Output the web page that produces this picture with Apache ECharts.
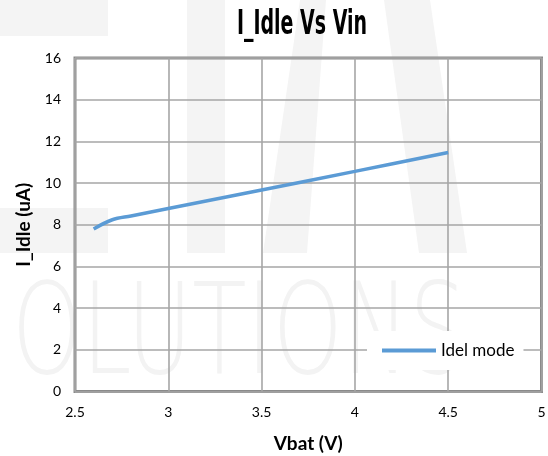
<!DOCTYPE html>
<html>
<head>
<meta charset="utf-8">
<script src="https://cdn.jsdelivr.net/npm/echarts@6/dist/echarts.min.js"></script>
<style>
html,body{margin:0;padding:0;background:#fff;}
#chart{width:548px;height:456px;}
</style>
</head>
<body>
<div id="chart"></div>
<script>
// ---- data ----
var vbat = [2.6, 2.7, 2.8, 3.0, 3.5, 4.0, 4.5];
var idleCurrent = [7.8, 8.24, 8.42, 8.78, 9.67, 10.56, 11.47];
var seriesName = 'Idel mode';
var chartTitle = 'I_Idle Vs Vin';
var xAxisName = 'Vbat (V)';
var yAxisName = 'I_Idle (uA)';
var xTicks = {min: 2.5, max: 5, interval: 0.5};
var yTicks = {min: 0, max: 16, interval: 2};
var watermarkText = 'OLUTIONS';

var points = vbat.map(function (v, i) { return [v, idleCurrent[i]]; });

var chart = echarts.init(document.getElementById('chart'), null, {renderer: 'canvas'});
var wm = '#f4f4f4';
chart.setOption({
  backgroundColor: '#ffffff',
  animation: false,
  graphic: [
    {type: 'rect', z: -10, silent: true, shape: {x: 0, y: 0, width: 108, height: 36}, style: {fill: wm}},
    {type: 'rect', z: -10, silent: true, shape: {x: 0, y: 208, width: 108, height: 45}, style: {fill: wm}},
    {type: 'rect', z: -10, silent: true, shape: {x: 187, y: 0, width: 38, height: 253}, style: {fill: wm}},
    {type: 'polygon', z: -10, silent: true, shape: {points: [[300, 0], [326, 0], [307, 253], [263, 253]]}, style: {fill: wm}},
    {type: 'polygon', z: -10, silent: true, shape: {points: [[384, 0], [430, 0], [467, 253], [419, 253]]}, style: {fill: wm}},
    {type: 'text', z: -10, silent: true, x: 12, y: 277, scaleX: 0.70,
      style: {text: watermarkText, fontFamily: 'DejaVu Sans', fontWeight: 200, fontSize: 127,
        fill: '#f3f3f3', textAlign: 'left', textVerticalAlign: 'top'}},
    {type: 'text', z: 100, x: 302, y: 25, scaleX: 0.64,
      style: {text: chartTitle, fontFamily: 'DejaVu Sans Condensed', fontWeight: 'bold', fontSize: 33,
        fill: '#000', textAlign: 'center', textVerticalAlign: 'middle'}}
  ],
  grid: {
    left: 75, top: 58, right: 6.5, bottom: 64.5,
    containLabel: false, outerBoundsMode: 'none',
    show: true, borderColor: '#8a8a8a', borderWidth: 3, backgroundColor: 'transparent'
  },
  legend: {
    data: [{name: seriesName, icon: 'rect'}],
    left: 367, top: 331,
    padding: [11, 9, 11, 15],
    itemWidth: 54, itemHeight: 4, itemGap: 5,
    backgroundColor: '#ffffff',
    textStyle: {fontFamily: 'Lato', fontSize: 17, color: '#000'}
  },
  xAxis: {
    type: 'value', min: xTicks.min, max: xTicks.max, interval: xTicks.interval,
    name: xAxisName, nameLocation: 'middle', nameGap: 43,
    nameTextStyle: {fontFamily: 'Lato', fontWeight: 'bold', fontSize: 19, color: '#000'},
    axisLine: {show: false}, axisTick: {show: false},
    axisLabel: {fontFamily: 'Lato', fontSize: 14, color: '#000', margin: 14},
    splitLine: {show: true, lineStyle: {color: '#a6a6a6', width: 1.6}}
  },
  yAxis: {
    type: 'value', min: yTicks.min, max: yTicks.max, interval: yTicks.interval,
    name: yAxisName, nameLocation: 'middle', nameGap: 40,
    nameTextStyle: {fontFamily: 'Lato', fontWeight: 'bold', fontSize: 19, color: '#000'},
    axisLine: {show: false}, axisTick: {show: false},
    axisLabel: {fontFamily: 'Lato', fontSize: 14, color: '#000', margin: 14},
    splitLine: {show: true, lineStyle: {color: '#a6a6a6', width: 1.6}}
  },
  series: [{
    name: seriesName,
    type: 'line',
    data: points,
    smooth: 0.35,
    symbol: 'none',
    lineStyle: {color: '#5b9bd5', width: 3.5},
    itemStyle: {color: '#5b9bd5'}
  }]
});
</script>
</body>
</html>
